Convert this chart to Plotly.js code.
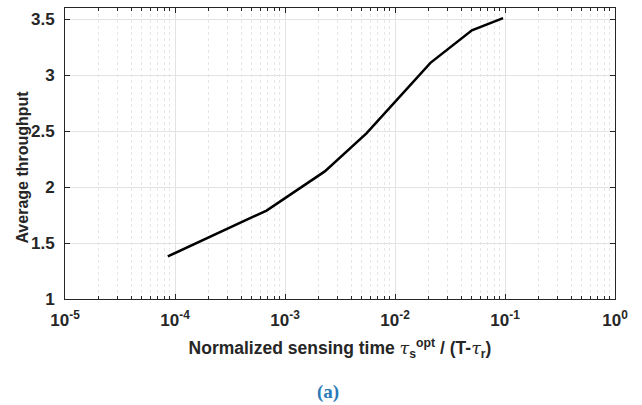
<!DOCTYPE html>
<html>
<head>
<meta charset="utf-8">
<script src="https://cdn.plot.ly/plotly-3.0.1.min.js"></script>
<style>html,body{margin:0;padding:0;background:#fff;}#chart{width:642px;height:405px;}</style>
</head>
<body>
<div id="chart"></div>
<script>
const sensingTime = [8.6e-5, 6.8e-4, 2.3e-3, 5.5e-3, 0.021, 0.05, 0.096];
const throughput = [1.38, 1.79, 2.14, 2.48, 3.11, 3.40, 3.51];
const xTickVals = [1e-5, 1e-4, 1e-3, 1e-2, 1e-1, 1];
const xTickText = ['10<sup>-5</sup>', '10<sup>-4</sup>', '10<sup>-3</sup>', '10<sup>-2</sup>', '10<sup>-1</sup>', '10<sup>0</sup>'];
const yTicks = [1, 1.5, 2, 2.5, 3, 3.5];
const xTitle = 'Normalized sensing time <span style="font-weight:normal;font-style:italic;font-family:\'DejaVu Serif\'">τ</span><sub>s</sub><sup>opt</sup> / (T-<span style="font-weight:normal;font-style:italic;font-family:\'DejaVu Serif\'">τ</span><sub>r</sub>)';
const yTitle = 'Average throughput';
const caption = '(a)';

const axisFont = {family: 'Liberation Sans', size: 17, color: '#262626', weight: 'bold'};

Plotly.newPlot('chart', [{
  x: sensingTime, y: throughput, type: 'scatter', mode: 'lines',
  line: {color: '#000000', width: 2.5}, showlegend: false
}], {
  width: 642, height: 405,
  margin: {l: 65, r: 27, t: 7.5, b: 106},
  paper_bgcolor: '#ffffff', plot_bgcolor: '#ffffff',
  font: {family: 'Liberation Sans'},
  xaxis: {
    type: 'log', range: [-5, 0], tickvals: xTickVals, ticktext: xTickText,
    showline: true, mirror: 'ticks', linecolor: '#262626', linewidth: 1,
    ticks: 'inside', ticklen: 5, tickcolor: '#262626', ticklabelstandoff: 6,
    showgrid: true, gridcolor: '#e3e3e3', gridwidth: 1,
    minor: {dtick: 'D1', showgrid: true, gridcolor: '#e6e6e6', griddash: 'dot', ticks: 'inside', ticklen: 3, tickcolor: '#262626'},
    tickfont: axisFont, zeroline: false,
    title: {text: xTitle, font: Object.assign({}, axisFont, {size: 17.5}), standoff: 12}
  },
  yaxis: {
    range: [1, 3.6], tickvals: yTicks, ticktext: yTicks.map(String),
    showline: true, mirror: 'ticks', linecolor: '#262626', linewidth: 1,
    ticks: 'inside', ticklen: 5, tickcolor: '#262626', ticklabelstandoff: 6,
    showgrid: true, gridcolor: '#e3e3e3', gridwidth: 1,
    tickfont: axisFont, zeroline: false
  },
  annotations: [{
    text: '<b>' + yTitle + '</b>', xref: 'paper', yref: 'paper', x: -0.078, y: 0.5, yshift: -14,
    xanchor: 'center', yanchor: 'middle', textangle: -90, showarrow: false,
    font: {family: 'Liberation Sans', size: 16, color: '#262626'}
  }, {
    text: '<b>' + caption + '</b>', xref: 'paper', yref: 'paper', x: 0.478, y: -0.319,
    xanchor: 'center', yanchor: 'middle', showarrow: false,
    font: {family: 'Liberation Serif', size: 19, color: '#2a7ab8'}
  }]
}, {displayModeBar: false, staticPlot: true});
</script>
</body>
</html>
